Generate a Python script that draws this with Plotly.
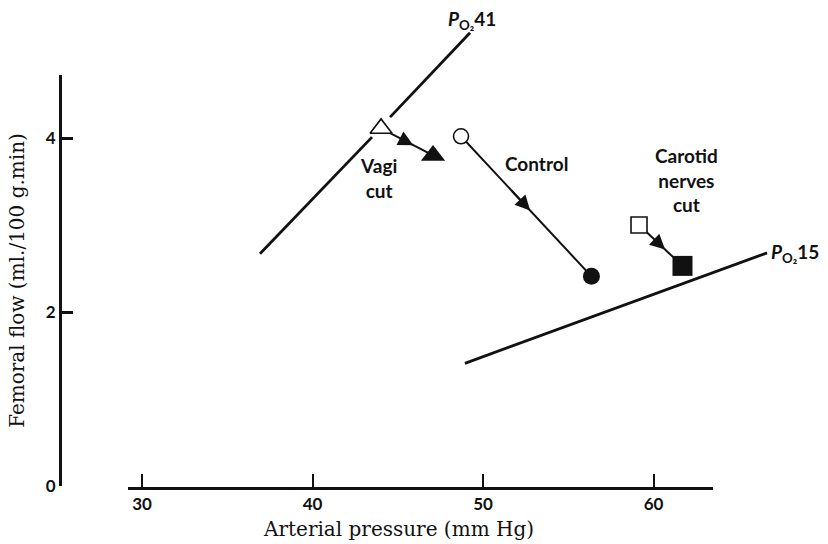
import plotly.graph_objects as go

# ---------------- data ----------------
conditions = ["Vagi cut", "Control", "Carotid nerves cut"]
start_pressure = [44.02, 48.71, 59.15]   # mm Hg
start_flow = [4.11, 4.02, 3.00]           # ml/100 g.min
end_pressure = [47.07, 56.36, 61.70]
end_flow = [3.80, 2.41, 2.53]
start_symbol = ["triangle-up", "circle", "square"]
end_symbol = ["triangle-up", "circle", "square"]
arrow_frac = [0.62, 0.53, 0.60]           # where arrowhead sits along each path

po2_41_x = [36.92, 43.49, None, 44.55, 49.24]
po2_41_y = [2.67, 4.01, None, 4.24, 5.21]
po2_15_x = [48.94, 66.66]
po2_15_y = [1.41, 2.68]

x_ticks = [30, 40, 50, 60]
y_ticks = [0, 2, 4]

# ---------------- geometry ----------------
W, H = 828, 544
PX30, PXU = 142.0, 17.05   # pixel of x=30, pixels per mm Hg
PY0, PYU = 486.0, 87.0     # pixel of y=0, pixels per unit flow

def xv(px):
    return 30 + (px - PX30) / PXU

def yv(py):
    return (PY0 - py) / PYU

BLACK = "#111111"
SANS = "Lato, 'Open Sans', sans-serif"
SERIF = "'DejaVu Serif', serif"

fig = go.Figure()

# dummy trace so display axes exist
fig.add_trace(go.Scatter(x=[None], y=[None], xaxis="x2", yaxis="y2",
                         showlegend=False, hoverinfo="skip"))

# PO2 iso-lines
fig.add_trace(go.Scatter(x=po2_41_x, y=po2_41_y, mode="lines",
                         line=dict(color=BLACK, width=2.8), showlegend=False))
fig.add_trace(go.Scatter(x=po2_15_x, y=po2_15_y, mode="lines",
                         line=dict(color=BLACK, width=2.8), showlegend=False))

# paths
for i in range(3):
    fig.add_trace(go.Scatter(x=[start_pressure[i], end_pressure[i]],
                             y=[start_flow[i], end_flow[i]], mode="lines",
                             line=dict(color=BLACK, width=2), showlegend=False))

# markers
sizes_end = [21, 17, 20]
sizes_start = [19, 15, 16]
for i in range(3):
    fig.add_trace(go.Scatter(x=[end_pressure[i]], y=[end_flow[i]], mode="markers",
                             marker=dict(symbol=end_symbol[i], size=sizes_end[i], color=BLACK,
                                         line=dict(width=0)),
                             showlegend=False))
    fig.add_trace(go.Scatter(x=[start_pressure[i]], y=[start_flow[i]], mode="markers",
                             marker=dict(symbol=start_symbol[i], size=sizes_start[i], color="white",
                                         line=dict(width=1.6, color=BLACK)),
                             showlegend=False))

# arrowheads
for i in range(3):
    t = arrow_frac[i]
    hx = start_pressure[i] + t * (end_pressure[i] - start_pressure[i])
    hy = start_flow[i] + t * (end_flow[i] - start_flow[i])
    t0 = t - 0.15
    tx = start_pressure[i] + t0 * (end_pressure[i] - start_pressure[i])
    ty = start_flow[i] + t0 * (end_flow[i] - start_flow[i])
    fig.add_annotation(x=hx, y=hy, ax=tx, ay=ty, xref="x", yref="y", axref="x", ayref="y",
                       text="", showarrow=True, arrowhead=2, arrowsize=1.5, arrowwidth=2,
                       arrowcolor=BLACK, standoff=0, startstandoff=0)

# text labels
lab_font = dict(family=SANS, size=19, color=BLACK, weight="bold")
fig.add_annotation(x=xv(378), y=yv(178), text="Vagi<br>cut", showarrow=False,
                   font=lab_font, xanchor="center", yanchor="middle")
fig.add_annotation(x=xv(536), y=yv(163), text="Control", showarrow=False,
                   font=lab_font, xanchor="center", yanchor="middle")
fig.add_annotation(x=xv(686), y=yv(180), text="Carotid<br>nerves<br>cut", showarrow=False,
                   font=lab_font, xanchor="center", yanchor="middle")
fig.add_annotation(x=xv(446), y=yv(20), text="<i>P</i><sub>O₂</sub>41", showarrow=False,
                   font=lab_font, xanchor="left", yanchor="middle")
fig.add_annotation(x=po2_15_x[-1], y=po2_15_y[-1], text="<i>P</i><sub>O₂</sub>15",
                   showarrow=False, font=lab_font, xanchor="left", yanchor="middle", xshift=2)

tick_font = dict(family=SANS, size=17, color=BLACK, weight="bold")
title_font = dict(family=SERIF, size=20, color=BLACK)

# x-axis title
fig.add_annotation(x=xv(398), y=yv(529), text="Arterial pressure (mm Hg)", showarrow=False,
                   font=title_font, xanchor="center", yanchor="middle")

fig.update_layout(
    width=W, height=H,
    margin=dict(l=0, r=0, t=0, b=0, pad=0, autoexpand=False),
    paper_bgcolor="white", plot_bgcolor="rgba(0,0,0,0)",
    showlegend=False,
    xaxis=dict(domain=[0, 1], range=[xv(0), xv(W)], visible=False, fixedrange=True,
               automargin=False),
    yaxis=dict(domain=[0, 1], range=[yv(H), yv(0)], visible=False, fixedrange=True,
               automargin=False),
    xaxis2=dict(domain=[128 / W, 713 / W], range=[xv(128), xv(713)],
                anchor="free", position=(H - 488) / H, automargin=False,
                showline=True, linewidth=3, linecolor=BLACK, showgrid=False, zeroline=False,
                ticks="inside", ticklen=13, tickwidth=2, tickcolor=BLACK,
                tickvals=x_ticks, tickfont=tick_font),
    yaxis2=dict(domain=[(H - PY0) / H, (H - 75) / H], range=[0, yv(75)],
                anchor="free", position=60 / W, automargin=False,
                showline=True, linewidth=3, linecolor=BLACK, showgrid=False, zeroline=False,
                ticks="inside", ticklen=11, tickwidth=2.5, tickcolor=BLACK,
                tickvals=y_ticks, tickfont=tick_font,
                title=dict(text="Femoral flow (ml./100 g.min)", font=title_font, standoff=14)),
)

fig.write_html("out.html")
